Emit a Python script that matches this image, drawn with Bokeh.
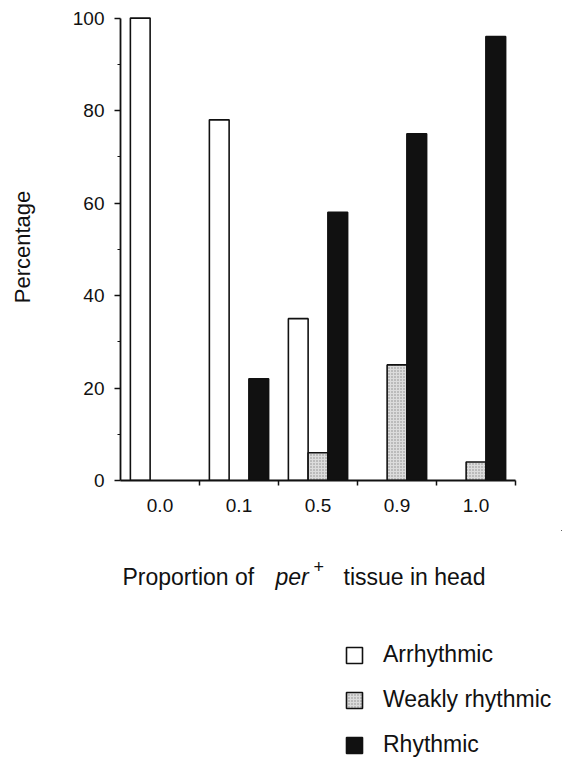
from bokeh.plotting import figure
from bokeh.layouts import column
from bokeh.models import Range1d, FixedTicker, Label, Legend, LegendItem
from bokeh.embed import file_html
from bokeh.resources import INLINE

# ---- data ----
proportions = ["0.0", "0.1", "0.5", "0.9", "1.0"]
arrhythmic = [100, 78, 35, 0, 0]
weakly_rhythmic = [0, 0, 6, 25, 4]
rhythmic = [0, 22, 58, 75, 96]
y_ticks = [0, 20, 40, 60, 80, 100]
y_minor_ticks = [10, 30, 50, 70, 90]
series_names = ["Arrhythmic", "Weakly rhythmic", "Rhythmic"]

FONT = "Liberation Sans"
INK = "#111111"

W = 562
TOP_H = 530
BOT_H = 759 - TOP_H
LEFT = 120          # frame left edge (canvas px)
AXIS_RIGHT = 515    # where the x axis ends (canvas px)
n = len(proportions)
# the frame runs to the right edge of the canvas; the x axis is bounded to the groups
x_end = n * (W - LEFT) / (AXIS_RIGHT - LEFT)

p = figure(width=W, height=TOP_H, output_backend="svg", toolbar_location=None,
           x_range=Range1d(0, x_end), y_range=Range1d(0, 101),
           min_border_left=LEFT, min_border_right=0, min_border_top=13,
           min_border_bottom=TOP_H - 480, background_fill_color="white",
           border_fill_color="white")

styles = [
    dict(fill_color="white", line_color=INK, line_width=1.6),
    dict(fill_color="#dcdcdc", line_color=INK, line_width=1.6,
         hatch_pattern="dot", hatch_color="#8a8a8a", hatch_scale=3, hatch_weight=1),
    dict(fill_color=INK, line_color=INK, line_width=1.6),
]
offsets = [-0.25, 0.0, 0.25]
bar_data = []
for vals, off in zip([arrhythmic, weakly_rhythmic, rhythmic], offsets):
    xs = [i + 0.5 + off for i, v in enumerate(vals) if v > 0]
    tops = [v for v in vals if v > 0]
    bar_data.append((xs, tops))

for (xs, tops), st in zip(bar_data, styles):
    p.vbar(x=xs, top=tops, bottom=0, width=0.25, **st)

p.xgrid.visible = False
p.ygrid.visible = False
p.outline_line_color = None

ya = p.yaxis[0]
ya.ticker = FixedTicker(ticks=y_ticks, minor_ticks=y_minor_ticks)
ya.bounds = (0, 100)
ya.axis_line_width = 1.8
ya.axis_line_color = INK
ya.major_tick_out = 6
ya.major_tick_in = 0
ya.minor_tick_out = 3
ya.minor_tick_in = 0
ya.major_tick_line_width = 1.5
ya.minor_tick_line_width = 1.2
ya.major_tick_line_color = INK
ya.minor_tick_line_color = INK
ya.major_label_text_font = FONT
ya.major_label_text_font_size = "19px"
ya.major_label_text_color = INK
ya.major_label_standoff = 10
ya.axis_label = "Percentage"
ya.axis_label_text_font = FONT
ya.axis_label_text_font_size = "22px"
ya.axis_label_text_font_style = "normal"
ya.axis_label_text_color = INK
ya.axis_label_standoff = 35

xa = p.xaxis[0]
centers = [i + 0.5 for i in range(n)]
xa.ticker = FixedTicker(ticks=centers, minor_ticks=[i + 1 for i in range(n)])
xa.major_label_overrides = {c: lab for c, lab in zip(centers, proportions)}
xa.bounds = (0, n)
xa.axis_line_width = 1.8
xa.axis_line_color = INK
xa.major_tick_out = 0
xa.major_tick_in = 0
xa.minor_tick_out = 5
xa.minor_tick_in = 0
xa.minor_tick_line_width = 1.5
xa.minor_tick_line_color = INK
xa.major_label_text_font = FONT
xa.major_label_text_font_size = "19px"
xa.major_label_text_color = INK
xa.major_label_standoff = 13

# ---- lower panel: x-axis title and legend (frame aligned with the upper one) ----
# its ranges lie away from the data, so the bars drawn here (legend keys only) stay out of view
q = figure(width=W, height=BOT_H, output_backend="svg", toolbar_location=None,
           x_axis_type=None, y_axis_type=None,
           x_range=Range1d(-6, -5), y_range=Range1d(-101, -100),
           min_border_left=LEFT, min_border_right=0, min_border_top=0,
           min_border_bottom=0, background_fill_color="white", border_fill_color="white")
q.outline_line_color = None
q.xgrid.visible = False
q.ygrid.visible = False

def cx(canvas_x):
    return canvas_x - LEFT

def cy(canvas_y):
    return 759 - canvas_y

title_parts = [
    ("Proportion of", 122, 576, "normal", "23px"),
    ("per", 275, 576, "italic", "23px"),
    ("+", 313, 566, "normal", "18px"),
    ("tissue in head", 343, 576, "normal", "23px"),
]
for txt, sx, sy, style, size in title_parts:
    q.add_layout(Label(x=cx(sx), y=cy(sy), x_units="screen", y_units="screen", text=txt,
                       text_font=FONT, text_font_size=size, text_font_style=style,
                       text_color=INK, text_baseline="alphabetic", text_align="left"))

keys = []
for (xs, tops), st in zip(bar_data, styles):
    keys.append(q.vbar(x=xs, top=tops, bottom=0, width=0.25, **st))

legend = Legend(items=[LegendItem(label=nm, renderers=[r]) for nm, r in zip(series_names, keys)],
                location=(cx(344), cy(758)), orientation="vertical",
                glyph_width=20, glyph_height=20, label_height=27, label_standoff=19, spacing=18,
                padding=0, margin=0, border_line_alpha=0, background_fill_alpha=0,
                label_text_font=FONT, label_text_font_size="23px", label_text_color=INK)
q.add_layout(legend)

layout = column(p, q, spacing=0)
open("out.html", "w").write(file_html(layout, INLINE))
